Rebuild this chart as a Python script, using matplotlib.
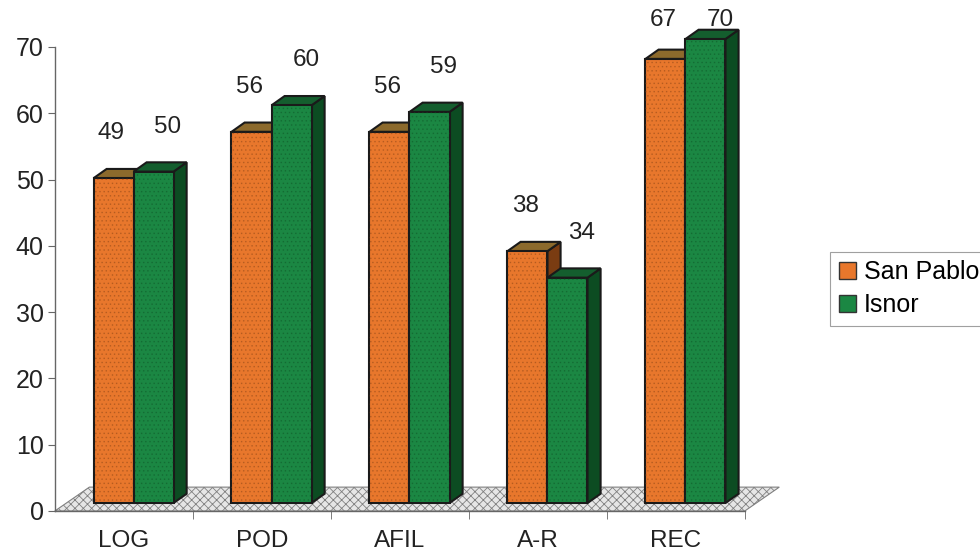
import matplotlib.pyplot as plt
from matplotlib.patches import Polygon, Patch

categories = ['LOG', 'POD', 'AFIL', 'A-R', 'REC']
san_pablo = [49, 56, 56, 38, 67]
isnor = [50, 60, 59, 34, 70]
series_names = ['San Pablo', 'Isnor']

plt.rcParams['font.family'] = ['Liberation Sans', 'DejaVu Sans']
plt.rcParams['hatch.linewidth'] = 0.6

# fake 3d offsets (data units)
base = 1.2
dx, dy = 0.095, 1.4
floor_dx, floor_dy = 0.25, 3.6
bar_w = 0.29

colors = {
    'San Pablo': ('#e8772c', '#7a3c12', '#8c6a2c'),
    'Isnor': ('#1b8743', '#0c4c22', '#145e2e'),
}


def draw_bar(ax, x0, h, front, side, top, z):
    x1 = x0 + bar_w
    y0 = base
    y1 = base + h
    ax.bar(x0, h, width=bar_w, bottom=y0, align='edge', color=front,
           edgecolor='#1a1a1a', linewidth=1.5, zorder=z + 1, clip_on=False)
    ax.bar(x0, h, width=bar_w, bottom=y0, align='edge', color='none',
           edgecolor=side, linewidth=0, hatch='....', alpha=0.35, zorder=z + 1.1, clip_on=False)
    side_poly = Polygon([(x1, y0), (x1 + dx, y0 + dy), (x1 + dx, y1 + dy), (x1, y1)],
                        closed=True, facecolor=side, edgecolor='#1a1a1a', linewidth=1.5,
                        zorder=z, clip_on=False)
    top_poly = Polygon([(x0, y1), (x1, y1), (x1 + dx, y1 + dy), (x0 + dx, y1 + dy)],
                       closed=True, facecolor=top, edgecolor='#1a1a1a', linewidth=1.5,
                       zorder=z, clip_on=False)
    ax.add_patch(side_poly)
    ax.add_patch(top_poly)


fig = plt.figure(figsize=(9.8, 5.52), dpi=100)
ax = fig.add_axes([0.056, 0.0743, 0.704, 0.8406])

n = len(categories)
ax.set_xlim(-0.5, n - 0.5)
ax.set_ylim(0, 70)

# floor
floor = Polygon([(-0.5, 0), (n - 0.5, 0), (n - 0.5 + floor_dx, floor_dy), (-0.5 + floor_dx, floor_dy)],
                closed=True, facecolor='#e6e6e6', edgecolor='#808080', linewidth=0.8,
                hatch='xxxx', zorder=1, clip_on=False)
ax.add_patch(floor)

for i in range(n):
    xo = i - 0.22
    xg = xo + bar_w
    f, s, t = colors['San Pablo']
    draw_bar(ax, xo, san_pablo[i], f, s, t, 2)
    f, s, t = colors['Isnor']
    draw_bar(ax, xg, isnor[i], f, s, t, 4)
    ax.text(i - 0.09, min(san_pablo[i] + 8, 74), str(san_pablo[i]), ha='center', va='center',
            fontsize=17.5, color='#222222', clip_on=False)
    ax.text(i + 0.32, min(isnor[i] + 8, 74), str(isnor[i]), ha='center', va='center',
            fontsize=17.5, color='#222222', clip_on=False)

ax.set_yticks(range(0, 71, 10))
ax.set_xticks(range(n))
ax.set_xticklabels(categories)
ax.set_xticks([i + 0.5 for i in range(n)], minor=True)
ax.tick_params(axis='x', which='major', length=0, pad=14, labelsize=17.5, labelcolor='#222222')
ax.tick_params(axis='x', which='minor', length=6, color='#666666')
ax.tick_params(axis='y', length=5, pad=3, labelsize=18, color='#666666', labelcolor='#222222')
for sp in ['top', 'right']:
    ax.spines[sp].set_visible(False)
for sp in ['left', 'bottom']:
    ax.spines[sp].set_color('#666666')
    ax.spines[sp].set_linewidth(1)

handles = [Patch(facecolor=colors[s][0], edgecolor='#333333', label=s) for s in series_names]
leg = fig.legend(handles=handles, loc='upper left', bbox_to_anchor=(0.834, 0.567),
                 fontsize=18, frameon=True, fancybox=False, edgecolor='#888888',
                 handlelength=0.7, handleheight=0.7, handletextpad=0.3,
                 labelspacing=0.35, borderpad=0.35)
leg.get_frame().set_linewidth(0.8)

fig.savefig('out.png', dpi=100)
